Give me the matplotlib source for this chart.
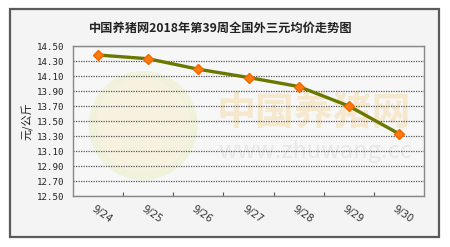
import numpy as np
import matplotlib
matplotlib.use('Agg')
import matplotlib.pyplot as plt
from matplotlib.patches import Rectangle, Ellipse

plt.rcParams['font.family'] = ['Noto Sans CJK SC', 'DejaVu Sans']

# data
dates = ['9/24', '9/25', '9/26', '9/27', '9/28', '9/29', '9/30']
prices = [14.38, 14.33, 14.19, 14.08, 13.96, 13.70, 13.33]
y_ticks = [12.50, 12.70, 12.90, 13.10, 13.30, 13.50, 13.70, 13.90, 14.10, 14.30, 14.50]

title = '中国养猪网2018年第39周全国外三元均价走势图'
y_label = '元/公斤'

W, H = 450, 247
fig = plt.figure(figsize=(W / 100, H / 100), dpi=100)
fig.patch.set_facecolor('white')

# outer frame
frame = Rectangle((10 / W, 1 - 237 / H), 429 / W, 228 / H,
                  transform=fig.transFigure, facecolor='#f4f4f4',
                  edgecolor='#5a5a5a', linewidth=1.6, zorder=-5)
fig.add_artist(frame)

ax = fig.add_axes([73 / W, 1 - 196 / H, 351 / W, 150 / H])
ax.set_zorder(2)
ax.set_facecolor('#f7f7f7')

# faint watermark
ax.add_patch(Ellipse((0.2, 0.47), 0.29, 0.68, transform=ax.transAxes, facecolor='#f7f1e0',
                     edgecolor='#f0f2dc', linewidth=5, zorder=0.5))
ax.text(0.687, 0.553, '中国养猪网', transform=ax.transAxes, fontsize=28, fontweight='bold',
        color='#f6e8cc', ha='center', va='center', zorder=0.6)
ax.text(0.69, 0.3, 'www.zhuwang.cc', transform=ax.transAxes, fontsize=17,
        color='#e8e8e8', ha='center', va='center', zorder=0.6)

x = np.arange(len(dates))
ax.plot(x, prices, color='#6b7800', linewidth=2.4, zorder=3)
ax.plot(x, prices, linestyle='none', marker='D', markersize=5.5,
        color='#ff7a10', markeredgecolor='#ee6a00', zorder=4)

ax.set_xlim(-0.5, len(dates) - 0.5)
ax.set_ylim(y_ticks[0], y_ticks[-1])
ax.set_yticks(y_ticks)
ax.set_yticklabels([f'{v:.2f}' for v in y_ticks], family='DejaVu Sans Mono', fontsize=6.6,
                   color='#222222')
ax.yaxis.grid(True, linestyle=(0, (1, 1)), color='#555555', linewidth=0.9, zorder=1)
ax.tick_params(axis='y', length=0, pad=6)

# category boundary ticks on the x axis
ax.set_xticks(np.arange(0.5, len(dates) - 0.5))
ax.set_xticklabels([])
ax.tick_params(axis='x', direction='in', length=3, color='#555555')
for i, d in enumerate(dates):
    ax.text(i + 0.08, -0.12, d, transform=ax.get_xaxis_transform(), rotation=-35,
            ha='center', va='center', fontsize=7.2, color='#333333', family='DejaVu Sans')

for s in ax.spines.values():
    s.set_color('#888888')
    s.set_linewidth(1.0)

fig.text(221 / W, 1 - 28 / H, title, ha='center', va='center', fontsize=8.8,
         fontweight='bold', color='#222222')
fig.text(27 / W, 1 - 121 / H, y_label, rotation=90, ha='center', va='center',
         fontsize=8, color='#222222')

fig.savefig('out.png', dpi=100)
